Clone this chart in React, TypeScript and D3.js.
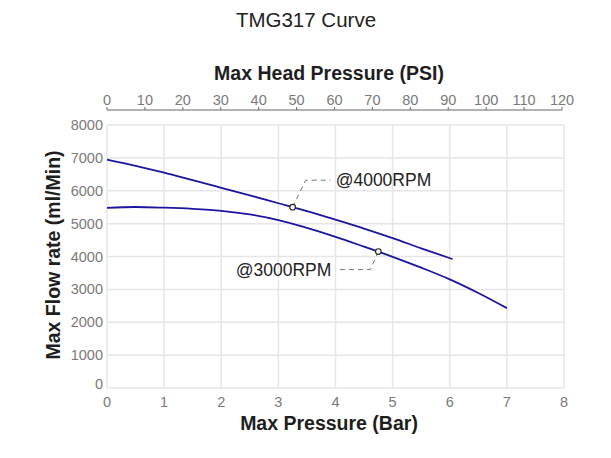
import React from "react";
import * as d3 from "d3";

const barTicks = [0, 1, 2, 3, 4, 5, 6, 7, 8];
const psiTicks = [0, 10, 20, 30, 40, 50, 60, 70, 80, 90, 100, 110, 120];
const flowTicks = [0, 1000, 2000, 3000, 4000, 5000, 6000, 7000, 8000];

const rpm4000Bar = [0, 0.5, 1, 1.5, 2, 2.5, 3, 3.5, 4, 4.5, 5, 5.5, 6.05];
const rpm4000Flow = [6950, 6760, 6550, 6320, 6090, 5860, 5620, 5380, 5120, 4850, 4560, 4250, 3920];

const rpm3000Bar = [0, 0.5, 1, 1.5, 2, 2.5, 3, 3.5, 4, 4.5, 5, 5.5, 6, 6.5, 7];
const rpm3000Flow = [5480, 5505, 5485, 5450, 5390, 5280, 5110, 4870, 4600, 4300, 3990, 3660, 3305, 2890, 2430];

const markers = [
  { bar: 3.25, flow: 5500, label: "@4000RPM" },
  { bar: 4.75, flow: 4150, label: "@3000RPM" },
];

const FONT = "'Liberation Sans', Arial, Helvetica, sans-serif";

export default function App() {
  const W = 611, H = 458;
  const x = d3.scaleLinear().domain([0, 8]).range([107, 564]);
  const xPsi = d3.scaleLinear().domain([0, 120]).range([107, 562]);
  const y = d3.scaleLinear().domain([0, 8000]).range([388, 125]);
  const line = d3.line<number>().curve(d3.curveMonotoneX);
  const path4000 = line(rpm4000Bar.map((b, i) => [x(b), y(rpm4000Flow[i])] as any) as any);
  const path3000 = line(rpm3000Bar.map((b, i) => [x(b), y(rpm3000Flow[i])] as any) as any);
  const lineColor = "#1c169e";
  const p4 = { x: x(markers[0].bar), y: y(markers[0].flow) };
  const p3 = { x: x(markers[1].bar), y: y(markers[1].flow) };
  return (
    <svg width={W} height={H} style={{ position: "absolute", left: 0, top: 0 }} fontFamily={FONT}>
      <rect width={W} height={H} fill="#fff" />
      <text x={306} y={27} textAnchor="middle" fontSize={20.5} fill="#222">TMG317 Curve</text>
      {/* grid */}
      {barTicks.map((t) => (
        <line key={"gx" + t} x1={x(t)} x2={x(t)} y1={y(8000)} y2={y(0)} stroke="#e6e6e6" strokeWidth={1.5} />
      ))}
      {flowTicks.map((t) => (
        <line key={"gy" + t} x1={x(0)} x2={x(8)} y1={y(t)} y2={y(t)} stroke="#e6e6e6" strokeWidth={1.5} />
      ))}
      {/* top axis */}
      <line x1={xPsi(0)} x2={xPsi(120)} y1={110} y2={110} stroke="#666" strokeWidth={1.2} />
      {psiTicks.map((t) => (
        <g key={"pt" + t}>
          <line x1={xPsi(t)} x2={xPsi(t)} y1={110} y2={107} stroke="#666" strokeWidth={1} />
          <text x={xPsi(t)} y={105} textAnchor="middle" fontSize={14.5} fill="#7a7a7a">{t}</text>
        </g>
      ))}
      <text x={329} y={80} textAnchor="middle" fontSize={19.5} fontWeight="bold" fill="#1e1e1e">Max Head Pressure (PSI)</text>
      {/* left axis labels */}
      {flowTicks.map((t) => (
        <text key={"yl" + t} x={103} y={y(t) + (t === 0 ? 1 : 5)} textAnchor="end" fontSize={14.5} fill="#7a7a7a">{t}</text>
      ))}
      <text transform={`translate(60,${255}) rotate(-90)`} textAnchor="middle" fontSize={19.5} fontWeight="bold" fill="#1e1e1e">Max Flow rate (ml/Min)</text>
      {/* bottom axis labels */}
      {barTicks.map((t) => (
        <text key={"xl" + t} x={x(t)} y={407} textAnchor="middle" fontSize={14.5} fill="#7a7a7a">{t}</text>
      ))}
      <text x={329} y={430} textAnchor="middle" fontSize={19.5} fontWeight="bold" fill="#1e1e1e">Max Pressure (Bar)</text>
      {/* curves */}
      <path d={path4000 || ""} fill="none" stroke={lineColor} strokeWidth={1.8} />
      <path d={path3000 || ""} fill="none" stroke={lineColor} strokeWidth={1.8} />
      {/* leaders */}
      <polyline points={`${p4.x},${p4.y} ${p4.x + 13},${p4.y - 27} ${p4.x + 38},${p4.y - 27}`} fill="none" stroke="#777" strokeWidth={1} strokeDasharray="5,4" />
      <text x={p4.x + 43} y={p4.y - 21} fontSize={17.5} fill="#222">{markers[0].label}</text>
      <polyline points={`${p3.x},${p3.y} ${p3.x - 8},${p3.y + 18} ${p3.x - 41},${p3.y + 18}`} fill="none" stroke="#777" strokeWidth={1} strokeDasharray="5,4" />
      <text x={p3.x - 47} y={p3.y + 24} textAnchor="end" fontSize={17.5} fill="#222">{markers[1].label}</text>
      <circle cx={p4.x} cy={p4.y} r={2.8} fill="#fff" stroke="#222" strokeWidth={1.2} />
      <circle cx={p3.x} cy={p3.y} r={2.8} fill="#fff" stroke="#222" strokeWidth={1.2} />
    </svg>
  );
}
